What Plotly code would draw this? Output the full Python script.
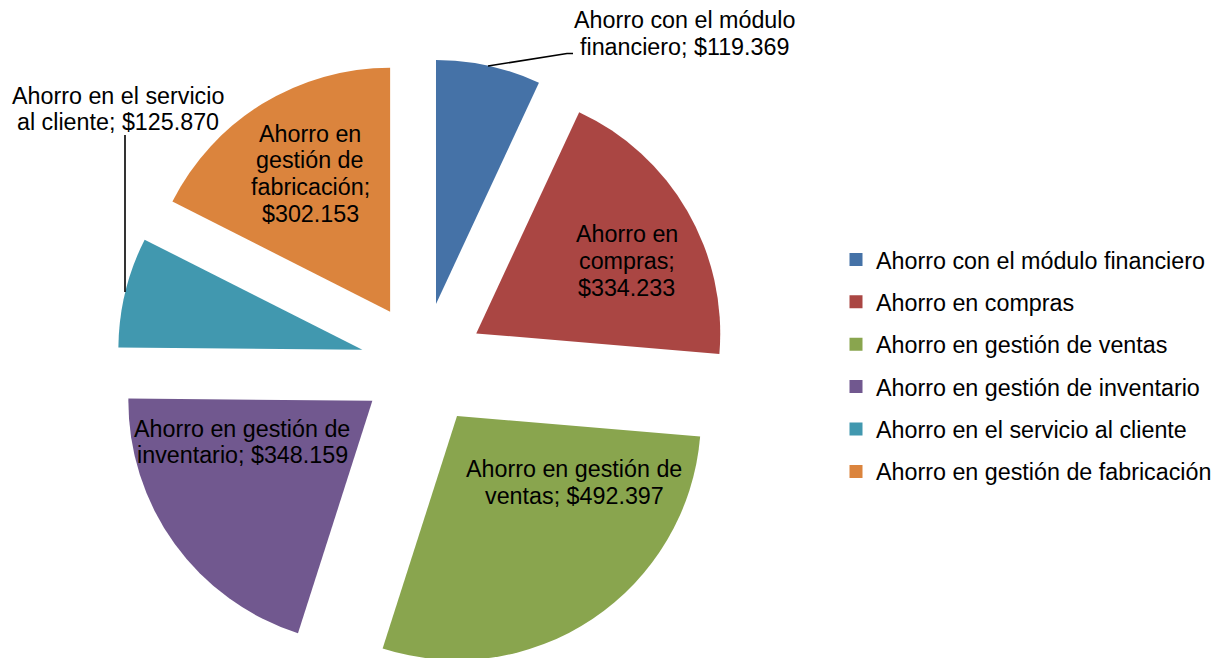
import textwrap
import plotly.graph_objects as go

# ---------------- data ----------------
categories = [
    "Ahorro con el módulo financiero",
    "Ahorro en compras",
    "Ahorro en gestión de ventas",
    "Ahorro en gestión de inventario",
    "Ahorro en el servicio al cliente",
    "Ahorro en gestión de fabricación",
]
values = [119369, 334233, 492397, 348159, 125870, 302153]
colors = ["#4572A7", "#AA4643", "#89A54E", "#71588F", "#4198AF", "#DB843D"]

# ---------------- layout constants ----------------
W, H = 1300, 700          # figure size; page body adds an 8px offset
OFF = 8                   # body margin of the html page
FONT = "Arial, Liberation Sans, sans-serif"
FS = 23.3
LINE_GAP = 26.7


def px(x):
    """screen x -> paper x"""
    return (x - OFF) / W


def py(y):
    """screen y -> paper y"""
    return 1 - (y - OFF) / H


def money(v):
    return "$" + f"{v:,}".replace(",", ".")


label_texts = [f"{c}; {money(v)}" for c, v in zip(categories, values)]
wrap_widths = [20, 10, 20, 20, 21, 12]
label_cx = [684, 626.5, 574, 242, 118, 310]
label_first_baseline = [28.3, 242.3, 477.3, 436.7, 103.7, 141.7]

# pie placement (screen pixels)
cx, cy = 422.6, 364.5
r_slice, d_pull = 244.0, 62.0
pull = d_pull / r_slice
half_box = r_slice + d_pull

fig = go.Figure()
fig.add_trace(go.Pie(
    labels=categories,
    values=values,
    marker=dict(colors=colors, line=dict(width=0)),
    sort=False,
    direction="clockwise",
    rotation=0,
    pull=pull,
    textinfo="none",
    hoverinfo="label+value",
    showlegend=False,
    domain=dict(x=[px(cx - half_box), px(cx + half_box)],
                y=[py(cy + half_box), py(cy - half_box)]),
))

# legend entries
for c, col in zip(categories, colors):
    fig.add_trace(go.Scatter(
        x=[None], y=[None], mode="markers", name=c, legendgroup=c,
        marker=dict(symbol="square", size=13, color=col, line=dict(width=0)),
        hoverinfo="skip",
    ))

annotations = []
for text, w, x0, b0 in zip(label_texts, wrap_widths, label_cx, label_first_baseline):
    for i, line in enumerate(textwrap.wrap(text, width=w)):
        base = b0 + i * LINE_GAP
        annotations.append(dict(
            x=px(x0), y=py(base - 0.3465 * FS), xref="paper", yref="paper",
            text=line, showarrow=False, xanchor="center", yanchor="middle",
            font=dict(family=FONT, size=FS, color="black"),
        ))


def path(points):
    return "M " + " L ".join(f"{px(a):.5f},{py(b):.5f}" for a, b in points)


shapes = [
    dict(type="path", xref="paper", yref="paper",
         path=path([(488, 66), (567, 53.5), (573, 53.5)]),
         line=dict(color="black", width=1.6)),
    dict(type="path", xref="paper", yref="paper",
         path=path([(125, 135), (125, 292)]),
         line=dict(color="black", width=1.6)),
]

fig.update_layout(
    width=W, height=H,
    margin=dict(l=0, r=0, t=0, b=0),
    paper_bgcolor="white", plot_bgcolor="white",
    xaxis=dict(visible=False), yaxis=dict(visible=False),
    annotations=annotations,
    shapes=shapes,
    showlegend=True,
    legend=dict(
        x=px(836), y=py(237.8), xanchor="left", yanchor="top",
        traceorder="grouped", tracegroupgap=9.1,
        font=dict(family=FONT, size=23.3, color="black"),
        bgcolor="rgba(0,0,0,0)",
    ),
)

fig.write_html("out.html")
